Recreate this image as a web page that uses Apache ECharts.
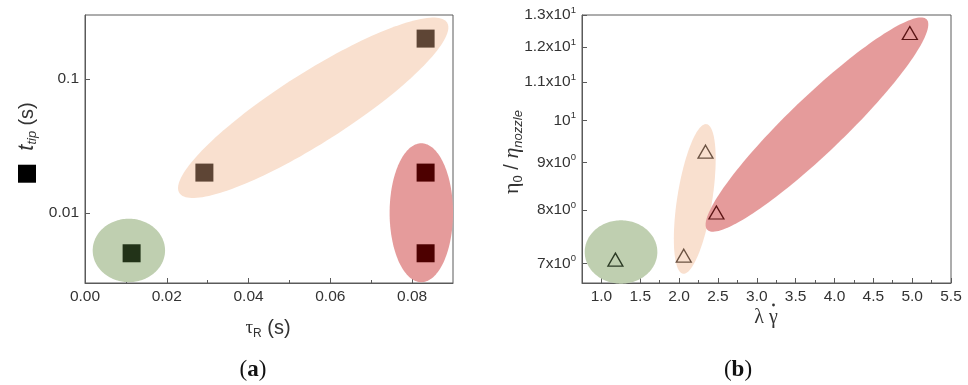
<!DOCTYPE html>
<html><head><meta charset="utf-8">
<script src="https://cdn.jsdelivr.net/npm/echarts@6/dist/echarts.min.js"></script>
<style>html,body{margin:0;padding:0;background:#fff}#c{width:968px;height:385px}</style>
</head><body><div id="c"></div>
<script>
// ---------- Panel (a): t_tip vs tau_R ----------
const aGreenX = [0.0114], aGreenY = [0.005];
const aPeachX = [0.0292, 0.0833], aPeachY = [0.02, 0.2];
const aRedX = [0.0833, 0.0833], aRedY = [0.02, 0.005];
const aXTicks = [0, 0.02, 0.04, 0.06, 0.08];
const aXMinor = [0.01, 0.03, 0.05, 0.07];
const aYTicks = [0.01, 0.1];
const aYTickLabels = ['0.01', '0.1'];
// highlight regions: major-axis end points (data units)
const aGreenRegion = [[0.00188, 0.00525], [0.01958, 0.00525]];
const aPeachRegion = [[0.02308, 0.01408], [0.08854, 0.2636]];
const aRedRegion = [[0.08225, 0.0331], [0.08225, 0.00304]];

// ---------- Panel (b): eta0/eta_nozzle vs lambda*gammadot ----------
const bGreenX = [1.18], bGreenY = [7.07];
const bPeachX = [2.06, 2.34], bPeachY = [7.14, 9.25];
const bRedX = [2.48, 4.97], bRedY = [7.95, 12.43];
const bXTicks = [1.0, 1.5, 2.0, 2.5, 3.0, 3.5, 4.0, 4.5, 5.0, 5.5];
const bXMinor = [1.25, 1.75, 2.25, 2.75, 3.25, 3.75, 4.25, 4.75, 5.25];
const bYTicks = [7, 8, 9, 10, 11, 12, 13];
const bYTickMant = ['7x10', '8x10', '9x10', '10', '1.1x10', '1.2x10', '1.3x10'];
const bYTickExp = ['0', '0', '0', '1', '1', '1', '1'];
const bGreenRegion = [[0.785, 7.205], [1.72, 7.205]];
const bPeachRegion = [[2.05, 6.826], [2.353, 9.906]];
const bRedRegion = [[2.363, 7.615], [5.186, 12.86]];

const zip = (xs, ys) => xs.map((x, i) => [x, ys[i]]);

const AX = '#5a5a5a';
const LBL = '#333';
const SANS = 'Liberation Sans';
const SERIF = 'Liberation Serif';

const COL = {
  greenFill: '#bfcfb0', peachFill: '#f9e0cf', redFill: '#e59b9b',
  greenMk: '#223318', peachMk: '#5e4535', redMk: '#4d0000',
  greenTri: '#2b3a24', peachTri: '#6b5242', redTri: '#5a1414'
};

function ellipseSeries(xi, yi, regions) {
  return {
    type: 'custom', xAxisIndex: xi, yAxisIndex: yi, z: 1, silent: true, clip: false,
    encode: { x: [0, 2], y: [1, 3] },
    data: regions.map(r => ({ value: [r.ends[0][0], r.ends[0][1], r.ends[1][0], r.ends[1][1], r.minor], itemStyle: { color: r.color } })),
    renderItem: function (params, api) {
      const p1 = api.coord([api.value(0), api.value(1)]);
      const p2 = api.coord([api.value(2), api.value(3)]);
      const b = api.value(4);
      const cx = (p1[0] + p2[0]) / 2, cy = (p1[1] + p2[1]) / 2;
      const dx = p2[0] - p1[0], dy = p2[1] - p1[1];
      const a = Math.hypot(dx, dy) / 2;
      const ux = dx / (2 * a), uy = dy / (2 * a), vx = -uy, vy = ux;
      const pts = [];
      for (let i = 0; i < 160; i++) {
        const t = i / 160 * 2 * Math.PI;
        pts.push([cx + a * Math.cos(t) * ux + b * Math.sin(t) * vx, cy + a * Math.cos(t) * uy + b * Math.sin(t) * vy]);
      }
      return { type: 'polygon', shape: { points: pts }, style: { fill: api.visual('color') } };
    }
  };
}

function mainX(gi, min, max, ticks, fmt) {
  return {
    type: 'value', gridIndex: gi, min: min, max: max, position: 'bottom',
    axisLine: { show: true, lineStyle: { color: AX, width: 1 } },
    axisTick: { show: true, inside: true, length: 5, customValues: ticks, lineStyle: { color: AX } },
    axisLabel: { show: true, customValues: ticks, formatter: fmt, margin: 6, color: LBL, fontFamily: SANS, fontSize: 15.5 },
    splitLine: { show: false }
  };
}
function minorX(gi, min, max, ticks) {
  return {
    type: 'value', gridIndex: gi, min: min, max: max, position: 'bottom',
    axisLine: { show: false },
    axisTick: { show: true, inside: true, length: 3, customValues: ticks, lineStyle: { color: AX } },
    axisLabel: { show: false }, splitLine: { show: false }
  };
}

const option = {
  animation: false,
  backgroundColor: '#fff',
  grid: [
    { left: 85, top: 15, width: 368, height: 268, show: true, borderColor: AX, borderWidth: 1, backgroundColor: 'transparent' },
    { left: 582, top: 15, width: 369, height: 268, show: true, borderColor: AX, borderWidth: 1, backgroundColor: 'transparent' }
  ],
  xAxis: [
    mainX(0, 0, 0.09, aXTicks, v => v.toFixed(2)),
    mainX(1, 0.75, 5.5, bXTicks, v => v.toFixed(1)),
    minorX(0, 0, 0.09, aXMinor),
    minorX(1, 0.75, 5.5, bXMinor)
  ],
  yAxis: [
    {
      type: 'log', logBase: 10, gridIndex: 0, min: 0.003, max: 0.3,
      axisLine: { show: true, lineStyle: { color: AX } },
      axisTick: { show: true, inside: true, length: 5, customValues: aYTicks, lineStyle: { color: AX } },
      axisLabel: {
        customValues: aYTicks, margin: 6, color: LBL, fontFamily: SANS, fontSize: 15.5,
        formatter: v => { const i = aYTicks.findIndex(t => Math.abs(t - v) / t < 1e-6); return i >= 0 ? aYTickLabels[i] : ''; }
      },
      splitLine: { show: false }, minorTick: { show: false }
    },
    {
      type: 'log', logBase: 10, gridIndex: 1, min: 6.67, max: 13,
      axisLine: { show: true, lineStyle: { color: AX } },
      axisTick: { show: true, inside: true, length: 5, customValues: bYTicks, lineStyle: { color: AX } },
      axisLabel: {
        customValues: bYTicks, margin: 6, color: LBL, fontFamily: SANS, fontSize: 15.5,
        formatter: v => { const i = bYTicks.findIndex(t => Math.abs(t - v) / t < 1e-6); return i >= 0 ? '{m|' + bYTickMant[i] + '}{s|' + bYTickExp[i] + '}' : ''; },
        rich: {
          m: { fontFamily: SANS, fontSize: 15.5, color: LBL, lineHeight: 20, verticalAlign: 'middle' },
          s: { fontFamily: SANS, fontSize: 9.5, color: LBL, lineHeight: 10, verticalAlign: 'top' }
        }
      },
      splitLine: { show: false }, minorTick: { show: false }
    }
  ],
  series: [
    ellipseSeries(0, 0, [
      { ends: aGreenRegion, minor: 31.7, color: COL.greenFill },
      { ends: aPeachRegion, minor: 35, color: COL.peachFill },
      { ends: aRedRegion, minor: 31.7, color: COL.redFill }
    ]),
    ellipseSeries(1, 1, [
      { ends: bGreenRegion, minor: 31.7, color: COL.greenFill },
      { ends: bPeachRegion, minor: 17.5, color: COL.peachFill },
      { ends: bRedRegion, minor: 28, color: COL.redFill }
    ]),
    { type: 'scatter', xAxisIndex: 0, yAxisIndex: 0, z: 3, symbol: 'rect', symbolSize: 18, data: zip(aGreenX, aGreenY), itemStyle: { color: COL.greenMk, opacity: 1 } },
    { type: 'scatter', xAxisIndex: 0, yAxisIndex: 0, z: 3, symbol: 'rect', symbolSize: 18, data: zip(aPeachX, aPeachY), itemStyle: { color: COL.peachMk, opacity: 1 } },
    { type: 'scatter', xAxisIndex: 0, yAxisIndex: 0, z: 3, symbol: 'rect', symbolSize: 18, data: zip(aRedX, aRedY), itemStyle: { color: COL.redMk, opacity: 1 } },
    { type: 'scatter', xAxisIndex: 1, yAxisIndex: 1, z: 3, symbol: 'triangle', symbolSize: [15, 13], data: zip(bGreenX, bGreenY), itemStyle: { color: 'rgba(0,0,0,0)', borderColor: COL.greenTri, borderWidth: 1.3, opacity: 1 } },
    { type: 'scatter', xAxisIndex: 1, yAxisIndex: 1, z: 3, symbol: 'triangle', symbolSize: [15, 13], data: zip(bPeachX, bPeachY), itemStyle: { color: 'rgba(0,0,0,0)', borderColor: COL.peachTri, borderWidth: 1.3, opacity: 1 } },
    { type: 'scatter', xAxisIndex: 1, yAxisIndex: 1, z: 3, symbol: 'triangle', symbolSize: [15, 13], data: zip(bRedX, bRedY), itemStyle: { color: 'rgba(0,0,0,0)', borderColor: COL.redTri, borderWidth: 1.3, opacity: 1 } }
  ],
  graphic: [
    // panel (a) y-axis name
    { type: 'text', x: 27, y: 142.5, rotation: Math.PI / 2, z: 10,
      style: { text: '{sq| }{g1| }{t|t}{sub|tip}{g| }{n|(s)}', align: 'center', verticalAlign: 'middle', textAlign: 'center', textVerticalAlign: 'middle',
        rich: {
          sq: { width: 18, height: 18, backgroundColor: '#000', lineHeight: 24, fontSize: 10 },
          g1: { width: 14, fontFamily: SANS, fontSize: 19, lineHeight: 24, fill: LBL },
          g: { fontFamily: SANS, fontSize: 19, lineHeight: 24, fill: LBL },
          t: { fontFamily: SANS, fontSize: 22, fontStyle: 'italic', lineHeight: 24, fill: LBL },
          sub: { fontFamily: SANS, fontSize: 13, fontStyle: 'italic', lineHeight: 12, verticalAlign: 'bottom', fill: LBL },
          n: { fontFamily: SANS, fontSize: 20, lineHeight: 24, fill: LBL }
        } } },
    // panel (a) x-axis name
    { type: 'text', x: 268, y: 328, z: 10,
      style: { text: '{tau|τ}{sub|R}{n| (s)}', align: 'center', verticalAlign: 'middle', textAlign: 'center', textVerticalAlign: 'middle',
        rich: {
          tau: { fontFamily: SERIF, fontSize: 19, lineHeight: 24, fill: LBL },
          sub: { fontFamily: SANS, fontSize: 12, lineHeight: 11, verticalAlign: 'bottom', fill: LBL },
          n: { fontFamily: SANS, fontSize: 20, lineHeight: 24, fill: LBL }
        } } },
    // panel (b) y-axis name
    { type: 'text', x: 512, y: 152, rotation: Math.PI / 2, z: 10,
      style: { text: '{e|η}{sub|0}{n| / }{ei|η}{subi|nozzle}', align: 'center', verticalAlign: 'middle', textAlign: 'center', textVerticalAlign: 'middle',
        rich: {
          e: { fontFamily: SERIF, fontSize: 22, lineHeight: 26, fill: LBL },
          ei: { fontFamily: SERIF, fontSize: 22, fontStyle: 'italic', lineHeight: 26, fill: LBL },
          sub: { fontFamily: SANS, fontSize: 13, lineHeight: 12, verticalAlign: 'bottom', fill: LBL },
          subi: { fontFamily: SANS, fontSize: 13, fontStyle: 'italic', lineHeight: 12, verticalAlign: 'bottom', fill: LBL },
          n: { fontFamily: SANS, fontSize: 20, lineHeight: 26, fill: LBL }
        } } },
    // panel (b) x-axis name: lambda gamma-dot
    { type: 'text', x: 766, y: 318, z: 10,
      style: { text: 'λ γ', align: 'center', verticalAlign: 'middle', textAlign: 'center', textVerticalAlign: 'middle',
        fontFamily: SERIF, fontSize: 20, fill: LBL, font: '20px "Liberation Serif"' } },
    { type: 'circle', shape: { cx: 773.5, cy: 305, r: 1.4 }, style: { fill: LBL }, z: 10 },
    // panel titles
    { type: 'text', x: 253, y: 370, z: 10,
      style: { text: '{p|(}{b|a}{p|)}', align: 'center', verticalAlign: 'middle', textAlign: 'center', textVerticalAlign: 'middle',
        rich: { p: { fontFamily: SERIF, fontSize: 23, fill: '#111' }, b: { fontFamily: SERIF, fontSize: 23, fontWeight: 'bold', fill: '#111' } } } },
    { type: 'text', x: 738, y: 370, z: 10,
      style: { text: '{p|(}{b|b}{p|)}', align: 'center', verticalAlign: 'middle', textAlign: 'center', textVerticalAlign: 'middle',
        rich: { p: { fontFamily: SERIF, fontSize: 23, fill: '#111' }, b: { fontFamily: SERIF, fontSize: 23, fontWeight: 'bold', fill: '#111' } } } }
  ]
};

const chart = echarts.init(document.getElementById('c'), null, { renderer: 'canvas' });
chart.setOption(option);
</script>
</body></html>
